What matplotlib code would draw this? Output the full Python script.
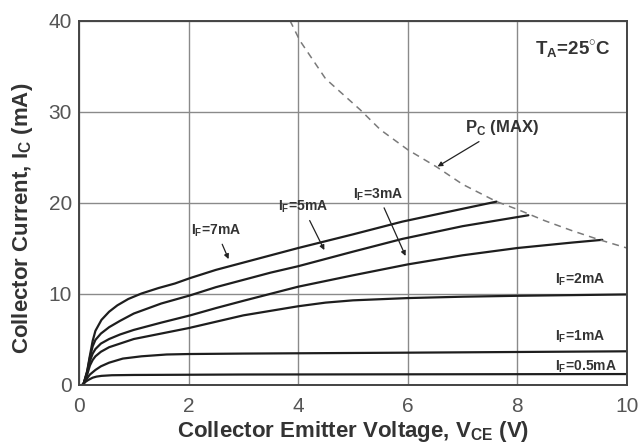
import matplotlib
matplotlib.use("Agg")
import matplotlib.pyplot as plt

# Output characteristics (V_CE in V, I_C in mA)
v_7ma = [0.08, 0.15, 0.2, 0.25, 0.3, 0.41, 0.55, 0.7, 0.9, 1.14, 1.45, 1.75, 2.03, 2.5, 3.0, 3.5, 4.0, 5.0, 5.9, 6.6, 7.62]
i_7ma = [0.0, 1.5, 3.2, 4.8, 5.9, 7.1, 8.0, 8.7, 9.4, 10.0, 10.6, 11.1, 11.7, 12.6, 13.4, 14.2, 15.0, 16.5, 17.9, 18.8, 20.1]

v_5ma = [0.08, 0.15, 0.2, 0.25, 0.3, 0.4, 0.55, 0.75, 1.0, 1.5, 2.03, 2.5, 3.0, 3.5, 4.0, 5.0, 5.9, 7.0, 8.2]
i_5ma = [0.0, 1.4, 3.0, 4.2, 4.9, 5.6, 6.3, 7.0, 7.8, 8.9, 9.8, 10.7, 11.5, 12.3, 13.0, 14.6, 16.0, 17.4, 18.6]

v_3ma = [0.08, 0.15, 0.2, 0.25, 0.3, 0.4, 0.55, 0.75, 1.0, 1.5, 2.03, 2.5, 3.0, 4.0, 5.0, 6.0, 7.0, 8.0, 9.0, 9.55]
i_3ma = [0.0, 1.3, 2.6, 3.4, 3.9, 4.5, 5.0, 5.5, 6.0, 6.8, 7.6, 8.4, 9.2, 10.75, 12.0, 13.2, 14.2, 15.0, 15.6, 15.9]

v_2ma = [0.08, 0.15, 0.2, 0.25, 0.3, 0.4, 0.55, 0.75, 1.0, 1.5, 2.0, 2.5, 3.0, 3.5, 4.0, 4.5, 5.0, 6.0, 7.0, 8.0, 10.0]
i_2ma = [0.0, 1.1, 2.1, 2.7, 3.1, 3.6, 4.1, 4.5, 5.0, 5.6, 6.2, 6.9, 7.6, 8.1, 8.6, 9.0, 9.25, 9.5, 9.65, 9.75, 9.9]

v_1ma = [0.08, 0.15, 0.2, 0.3, 0.4, 0.55, 0.8, 1.14, 1.6, 2.0, 3.0, 6.0, 10.0]
i_1ma = [0.0, 0.7, 1.1, 1.6, 2.0, 2.4, 2.85, 3.1, 3.3, 3.35, 3.4, 3.5, 3.65]

v_05ma = [0.06, 0.12, 0.17, 0.25, 0.32, 0.41, 0.6, 1.0, 3.0, 10.0]
i_05ma = [0.0, 0.3, 0.5, 0.75, 0.87, 0.95, 1.02, 1.05, 1.1, 1.15]

# maximum collector dissipation boundary
v_pc = [3.85, 4.03, 4.5, 5.13, 5.5, 6.0, 6.53, 7.0, 7.62, 8.02, 8.5, 9.0, 9.5, 10.0]
i_pc = [40.0, 37.8, 33.6, 30.2, 28.0, 25.8, 23.9, 22.0, 20.1, 19.2, 18.0, 16.9, 15.9, 15.0]

x_ticks = [0, 2, 4, 6, 8, 10]
y_ticks = [0, 10, 20, 30, 40]

plt.rcParams['font.family'] = ['Liberation Sans', 'DejaVu Sans']
plt.rcParams['mathtext.fontset'] = 'custom'
plt.rcParams['mathtext.rm'] = 'Liberation Sans'
plt.rcParams['mathtext.bf'] = 'Liberation Sans:bold'

fig = plt.figure(figsize=(6.39, 4.48), dpi=100)
ax = fig.add_axes([0.1236, 0.1417, 0.8576, 0.8125])

curve_kw = dict(color='#1e1e1e', lw=1.6, solid_capstyle='round')
for v, i in [(v_7ma, i_7ma), (v_5ma, i_5ma), (v_3ma, i_3ma),
             (v_2ma, i_2ma), (v_1ma, i_1ma), (v_05ma, i_05ma)]:
    ax.plot(v, i, **curve_kw)

ax.plot(v_pc, i_pc, color='#7a7a7a', lw=1.1, dashes=(4.5, 3.5))

ax.set_xlim(0, 10)
ax.set_ylim(0, 40)
ax.set_xticks(x_ticks)
ax.set_yticks(y_ticks)
ax.grid(True, color='#8a8a8a', lw=1.0)
ax.set_axisbelow(True)
ax.tick_params(length=0, labelsize=15, labelcolor='#555555')
ax.tick_params(axis='x', pad=9)
ax.tick_params(axis='y', pad=5)
for s in ax.spines.values():
    s.set_color('#444444')
    s.set_linewidth(1.4)

ax.set_xlabel(r'Collector Emitter Voltage, V$_{\mathbf{CE}}$ (V)', fontsize=16,
              fontweight='bold', color='#333333', labelpad=2)
ax.set_ylabel(r'Collector Current, I$_{\mathbf{C}}$ (mA)', fontsize=16,
              fontweight='bold', color='#333333')
ax.yaxis.set_label_coords(-0.080, 0.457)

txt = dict(fontsize=10, fontweight='bold', color='#333333')
arrow = dict(arrowstyle='-|>', color='#222222', lw=0.9, mutation_scale=7)

ax.annotate(r'I$_{\mathbf{F}}$=7mA', xy=(2.75, 13.5), xytext=(2.05, 16.9),
            ha='left', va='center', arrowprops=arrow, **txt)
ax.annotate(r'I$_{\mathbf{F}}$=5mA', xy=(4.5, 14.5), xytext=(3.63, 19.5),
            ha='left', va='center', arrowprops=arrow, **txt)
ax.annotate(r'I$_{\mathbf{F}}$=3mA', xy=(5.98, 13.85), xytext=(5.0, 20.9),
            ha='left', va='center', arrowprops=arrow, **txt)
ax.annotate(r'P$_{\mathbf{C}}$ (MAX)', xy=(6.5, 23.8), xytext=(7.04, 28.2),
            ha='left', va='center', arrowprops=arrow,
            fontsize=12, fontweight='bold', color='#333333')

ax.text(8.69, 11.5, r'I$_{\mathbf{F}}$=2mA', ha='left', va='center', **txt)
ax.text(8.69, 5.2, r'I$_{\mathbf{F}}$=1mA', ha='left', va='center', **txt)
ax.text(8.69, 2.0, r'I$_{\mathbf{F}}$=0.5mA', ha='left', va='center', **txt)
ax.text(8.32, 36.8, r'T$_{\mathbf{A}}$=25$^{\circ}$C', ha='left', va='center',
        fontsize=13.5, fontweight='bold', color='#333333')

fig.savefig('out.png', dpi=100)
